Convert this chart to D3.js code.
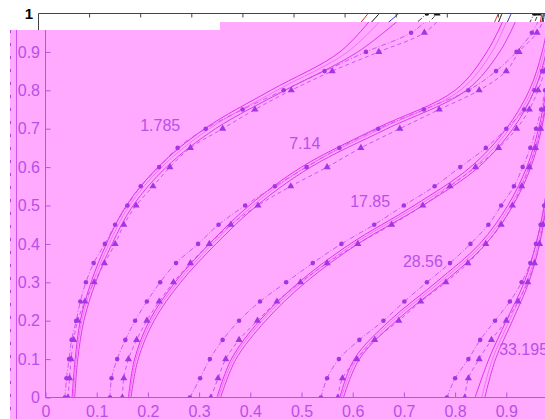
<!DOCTYPE html>
<html>
<head>
<meta charset="utf-8">
<script src="https://cdn.jsdelivr.net/npm/d3@7"></script>
<style>
  body { margin: 0; background: #fff; }
  svg { display: block; font-family: "Liberation Sans", Arial, sans-serif; }
</style>
</head>
<body>
<svg id="chart" width="545" height="419"></svg>
<script>
// y levels for the solid curves and for the marker curves
var ySolid = [0, 0.1, 0.2, 0.3, 0.4, 0.5, 0.6, 0.7, 0.8, 0.9, 1]
var yMark = [0, 0.05, 0.1, 0.15, 0.2, 0.25, 0.3, 0.35, 0.4, 0.45, 0.5,
             0.55, 0.6, 0.65, 0.7, 0.75, 0.8, 0.85, 0.9, 0.95, 1]
var xTicks = [0, 0.1, 0.2, 0.3, 0.4, 0.5, 0.6, 0.7, 0.8, 0.9]
var yTicks = [0, 0.1, 0.2, 0.3, 0.4, 0.5, 0.6, 0.7, 0.8, 0.9]

var groupNames = ["1.785", "7.14", "17.85", "28.56", "33.195"]
// where each name sits, in data units [x, y]
var groupNamePos = [[0.185, 0.694], [0.476, 0.647], [0.595, 0.496], [0.698, 0.34], [0.886, 0.111]]

// three solid curves per group (x at ySolid)
var g1Solid = [
  [0.052, 0.058, 0.068, 0.089, 0.119, 0.158, 0.22, 0.311, 0.44, 0.575, 0.645],
  [0.054, 0.060, 0.071, 0.093, 0.124, 0.164, 0.227, 0.32, 0.452, 0.59, 0.667],
  [0.057, 0.063, 0.075, 0.098, 0.13, 0.171, 0.236, 0.332, 0.468, 0.61, 0.705]]
var g2Solid = [
  [0.162, 0.174, 0.203, 0.253, 0.32, 0.398, 0.50, 0.645, 0.80, 0.862, 0.9],
  [0.164, 0.177, 0.207, 0.258, 0.326, 0.405, 0.508, 0.655, 0.81, 0.872, 0.907],
  [0.167, 0.181, 0.212, 0.264, 0.333, 0.413, 0.518, 0.667, 0.822, 0.887, 0.925]]
var g3Solid = [
  [0.335, 0.363, 0.418, 0.495, 0.595, 0.72, 0.83, 0.90, 0.945, 0.97, 0.985],
  [0.338, 0.367, 0.423, 0.501, 0.602, 0.728, 0.838, 0.906, 0.95, 0.974, 0.988],
  [0.342, 0.372, 0.43, 0.508, 0.61, 0.737, 0.846, 0.913, 0.955, 0.978, 0.99]]
var g4Solid = [
  [0.575, 0.603, 0.672, 0.763, 0.848, 0.903, 0.94, 0.963, 0.978, 0.989, 0.996],
  [0.578, 0.608, 0.678, 0.77, 0.854, 0.908, 0.944, 0.966, 0.98, 0.99, 0.997],
  [0.582, 0.613, 0.685, 0.778, 0.86, 0.913, 0.948, 0.969, 0.982, 0.992, 0.998]]
var g5Solid = [
  [0.839, 0.866, 0.9, 0.935, 0.958, 0.974, 0.984, 0.99, 0.994, 0.997, 0.999],
  [0.852, 0.873, 0.906, 0.94, 0.962, 0.976, 0.985, 0.991, 0.995, 0.998, 1.0],
  [0.858, 0.879, 0.912, 0.944, 0.965, 0.978, 0.987, 0.992, 0.996, 0.998, 1.0]]

// dashed curves with markers (x at yMark)
var g1Circ = [0.038, 0.041, 0.046, 0.051, 0.06, 0.068, 0.079, 0.094, 0.116, 0.136, 0.16,
              0.186, 0.222, 0.258, 0.313, 0.385, 0.465, 0.545, 0.626, 0.714, 0.76]
var g1Tri = [0.044, 0.047, 0.05, 0.055, 0.063, 0.077, 0.095, 0.115, 0.136, 0.153, 0.177,
             0.21, 0.243, 0.283, 0.346, 0.409, 0.48, 0.56, 0.651, 0.74, 0.78]
var g2Circ = [0.126, 0.129, 0.14, 0.156, 0.175, 0.198, 0.224, 0.255, 0.298, 0.338, 0.39,
              0.448, 0.51, 0.574, 0.65, 0.739, 0.826, 0.88, 0.92, 0.95, 0.97]
var g2Tri = [0.15, 0.153, 0.162, 0.178, 0.198, 0.222, 0.25, 0.283, 0.32, 0.362, 0.415,
             0.479, 0.55, 0.616, 0.692, 0.769, 0.847, 0.90, 0.925, 0.96, 0.978]
var g3Circ = [0.282, 0.302, 0.321, 0.346, 0.378, 0.419, 0.47, 0.522, 0.578, 0.642, 0.70,
              0.76, 0.81, 0.86, 0.90, 0.935, 0.955, 0.97, 0.98, 0.99, 0.995]
var g3Tri = [0.323, 0.337, 0.352, 0.378, 0.414, 0.452, 0.498, 0.55, 0.61, 0.676, 0.737,
             0.79, 0.84, 0.885, 0.92, 0.945, 0.962, 0.975, 0.985, 0.993, 0.997]
var g4Circ = [0.538, 0.55, 0.573, 0.613, 0.66, 0.701, 0.745, 0.79, 0.83, 0.865, 0.89,
              0.915, 0.932, 0.947, 0.958, 0.968, 0.976, 0.982, 0.987, 0.992, 0.996]
var g4Tri = [0.571, 0.58, 0.608, 0.643, 0.69, 0.733, 0.782, 0.825, 0.86, 0.89, 0.912,
             0.93, 0.945, 0.957, 0.967, 0.975, 0.981, 0.986, 0.99, 0.994, 0.998]
var g5Circ = [0.784, 0.80, 0.826, 0.849, 0.878, 0.907, 0.93, 0.947, 0.958, 0.967, 0.974,
              0.98, 0.984, 0.988, 0.991, 0.993, 0.995, 0.997, 0.998, 0.999, 1.0]
var g5Tri = [0.819, 0.826, 0.847, 0.871, 0.90, 0.923, 0.942, 0.955, 0.965, 0.972, 0.978,
             0.983, 0.987, 0.99, 0.993, 0.995, 0.997, 0.998, 0.999, 1.0, 1.0]

var groups = [
  {solid: g1Solid, circ: g1Circ, tri: g1Tri},
  {solid: g2Solid, circ: g2Circ, tri: g2Tri},
  {solid: g3Solid, circ: g3Circ, tri: g3Tri},
  {solid: g4Solid, circ: g4Circ, tri: g4Tri},
  {solid: g5Solid, circ: g5Circ, tri: g5Tri}
]

//===================== scales ====================
var svg = d3.select("#chart")
var xPink = d3.scaleLinear().domain([0, 1]).range([45.5, 557.5])
var xBlack = d3.scaleLinear().domain([0, 1]).range([38.5, 549.5])
var y = d3.scaleLinear().domain([0, 1]).range([397.5, 13.5])

var pinkBg = "#ffaaff"
var purple = "#b850e8"
var markCol = "#a535e4"
var solidPink = ["#e230ef", "#f070f6", "#d83ce8"]
var solidBlack = ["#e8221e", "#111111", "#2233cc"]

function toPts(xs, ys) {
  return xs.map(function(v, i) { return [v, ys[i]] })
}

var defs = svg.append("defs")
defs.append("clipPath").attr("id", "clipTop")
  .append("rect").attr("x", 38.5).attr("y", 13.5).attr("width", 510).attr("height", 20)
defs.append("clipPath").attr("id", "clipPink")
  .append("rect").attr("x", 45.5).attr("y", 22).attr("width", 500).attr("height", 375.5)

//===================== curves ====================
function drawCurves(layer, xs, solidCols, dashCol, mkCol) {
  var line = d3.line()
    .x(function(d) { return xs(d[0]) })
    .y(function(d) { return y(d[1]) })
    .curve(d3.curveCatmullRom.alpha(0.5))

  groups.forEach(function(g) {
    g.solid.forEach(function(s, k) {
      layer.append("path")
        .attr("d", line(toPts(s, ySolid)))
        .attr("fill", "none")
        .attr("stroke", solidCols[k])
        .attr("stroke-width", 1)
    })
    layer.append("path")
      .attr("d", line(toPts(g.circ, yMark)))
      .attr("fill", "none").attr("stroke", dashCol)
      .attr("stroke-width", 0.9).attr("stroke-dasharray", "5,2,1,2")
    layer.append("path")
      .attr("d", line(toPts(g.tri, yMark)))
      .attr("fill", "none").attr("stroke", dashCol)
      .attr("stroke-width", 0.9).attr("stroke-dasharray", "4,3")

    layer.selectAll(null).data(toPts(g.circ, yMark)).enter()
      .append("circle")
      .attr("cx", function(d) { return xs(d[0]) })
      .attr("cy", function(d) { return y(d[1]) })
      .attr("r", 2.3)
      .attr("fill", mkCol)
    layer.selectAll(null).data(toPts(g.tri, yMark)).enter()
      .append("path")
      .attr("d", d3.symbol().type(d3.symbolTriangle).size(22))
      .attr("transform", function(d) { return "translate(" + xs(d[0]) + "," + y(d[1]) + ")" })
      .attr("fill", mkCol)
  })
}

// original plot, only its top strip stays visible
var topLayer = svg.append("g").attr("clip-path", "url(#clipTop)")
drawCurves(topLayer, xBlack, solidBlack, "#222", "#111")

var topAxis = svg.append("g")
topAxis.append("line")
  .attr("x1", xBlack(0)).attr("x2", 545).attr("y1", y(1)).attr("y2", y(1))
  .attr("stroke", "#444").attr("stroke-width", 1)
topAxis.append("line")
  .attr("x1", xBlack(0)).attr("x2", xBlack(0)).attr("y1", y(1)).attr("y2", 32)
  .attr("stroke", "#444").attr("stroke-width", 1)
topAxis.selectAll(".tk").data(xTicks.slice(1)).enter()
  .append("line")
  .attr("x1", function(d) { return xBlack(d) }).attr("x2", function(d) { return xBlack(d) })
  .attr("y1", y(1)).attr("y2", y(1) + 4)
  .attr("stroke", "#444")
topAxis.append("text")
  .attr("x", 33).attr("y", y(1))
  .attr("text-anchor", "end").attr("dy", "0.35em")
  .attr("font-size", 15).attr("font-weight", "bold")
  .attr("fill", "#000")
  .text("1")

//===================== pink copy ====================
svg.append("path")
  .attr("d", "M10,30H220V22H545V419H10Z")
  .attr("fill", pinkBg)

// left strip lines
svg.append("line").attr("x1", 16.5).attr("x2", 16.5).attr("y1", 30).attr("y2", 419)
  .attr("stroke", "#cc55ee").attr("stroke-width", 1)
svg.append("line").attr("x1", 10.5).attr("x2", 10.5).attr("y1", 30).attr("y2", 419)
  .attr("stroke", "#b044e0").attr("stroke-width", 1).attr("stroke-dasharray", "3,10")

var pinkLayer = svg.append("g").attr("clip-path", "url(#clipPink)")
drawCurves(pinkLayer, xPink, solidPink, "#c24ef0", markCol)

// axes
var yAxis = svg.append("g")
  .attr("transform", "translate(" + xPink(0) + ",0)")
  .call(d3.axisLeft(y).tickValues(yTicks).tickFormat(function(d) { return d })
        .tickSizeInner(-5).tickSizeOuter(0).tickPadding(5.5))
var xAxis = svg.append("g")
  .attr("transform", "translate(0," + y(0) + ")")
  .call(d3.axisBottom(xPink).tickValues(xTicks).tickFormat(function(d) { return d })
        .tickSizeInner(-5).tickSizeOuter(0).tickPadding(8))

;[xAxis, yAxis].forEach(function(a) {
  a.select(".domain").remove()
  a.selectAll("line").attr("stroke", purple)
  a.selectAll("text").attr("fill", purple)
    .attr("font-size", 16)
    .attr("font-family", "Liberation Sans, Arial, sans-serif")
})

svg.append("line")
  .attr("x1", xPink(0)).attr("x2", xPink(0)).attr("y1", 30).attr("y2", y(0))
  .attr("stroke", purple)
svg.append("line")
  .attr("x1", xPink(0)).attr("x2", 545).attr("y1", y(0)).attr("y2", y(0))
  .attr("stroke", purple)

// group names
svg.selectAll(".gname").data(groupNames).enter()
  .append("text")
  .attr("class", "gname")
  .attr("x", function(d, i) { return xPink(groupNamePos[i][0]) })
  .attr("y", function(d, i) { return y(groupNamePos[i][1]) })
  .attr("font-size", 16)
  .attr("fill", purple)
  .text(function(d) { return d })
</script>
</body>
</html>
